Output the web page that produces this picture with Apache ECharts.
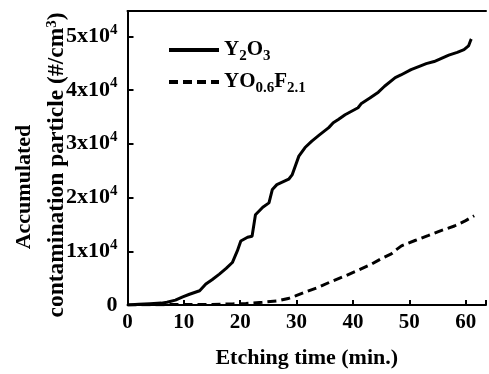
<!DOCTYPE html>
<html>
<head>
<meta charset="utf-8">
<script src="https://cdn.jsdelivr.net/npm/echarts@6/dist/echarts.min.js"></script>
<style>html,body{margin:0;padding:0;background:#fff}#c{width:489px;height:374px}</style>
</head>
<body>
<div id="c"></div>
<script>
// Etching time (min.) and accumulated particles (#/cm3)
var y2o3Time = [0, 2, 4, 6, 7, 8.5, 9.8, 11, 12.8, 13.9, 15, 16.3, 17.5, 18.6, 19.5, 20.1, 21.3, 22.1, 22.7, 24, 25.1, 25.7, 26.5, 28.6, 29.2, 30.4, 31.5, 32.7, 34, 35.7, 36.5, 37.4, 38.6, 40.9, 41.5, 43, 44.5, 45.6, 47.5, 48.5, 50.3, 52, 53, 54.4, 57, 58.5, 59.7, 60.5, 60.9, 61];
var y2o3Value = [0, 150, 250, 350, 500, 900, 1500, 2000, 2650, 3900, 4700, 5750, 6800, 7900, 10100, 11900, 12600, 12800, 16800, 18200, 19000, 21500, 22400, 23400, 24200, 27700, 29300, 30500, 31600, 33000, 33900, 34500, 35400, 36700, 37500, 38500, 39600, 40700, 42300, 42800, 43800, 44500, 44900, 45300, 46500, 47000, 47500, 48200, 49300, 49500];
var yofTime = [0, 5, 10, 15, 18.6, 21, 23.9, 26.8, 28.5, 29.8, 31.8, 33.9, 36, 38.6, 41, 43.3, 45, 46.8, 47.7, 48.6, 51, 53.3, 55.5, 58, 60, 61.5];
var yofValue = [0, 50, 100, 100, 200, 300, 500, 800, 1200, 1700, 2500, 3300, 4300, 5400, 6500, 7600, 8600, 9500, 10300, 11000, 12000, 12900, 13800, 14700, 15700, 16600];
var seriesNames = ['Y2O3', 'YO0.6F2.1'];
var legendLabels = {'Y2O3': 'Y{sub|2}O{sub|3}', 'YO0.6F2.1': 'YO{sub|0.6}F{sub|2.1}'};
var xTitle = 'Etching time (min.)';
var yTitle1 = 'Accumulated';
var yTitle2 = 'contamination particle (#/cm{sup|3})';

function pairs(t, v) { return t.map(function (x, i) { return [x, v[i]]; }); }

var FONT = 'Liberation Serif';
var chart = echarts.init(document.getElementById('c'));
chart.setOption({
  animation: false,
  backgroundColor: '#fff',
  grid: { left: 127.5, right: 0, top: 11, bottom: 68 },
  xAxis: [{
    type: 'value', min: 0, max: 63.6, interval: 10,
    axisLine: { lineStyle: { color: '#000', width: 2 } },
    axisTick: { inside: true, length: 5, lineStyle: { color: '#000', width: 2 } },
    axisLabel: { color: '#000', fontFamily: FONT, fontWeight: 'bold', fontSize: 21, margin: 7,
      formatter: function (v) { return v > 61 ? '' : String(v); } },
    splitLine: { show: false },
    name: xTitle, nameLocation: 'middle', nameGap: 42,
    nameTextStyle: { color: '#000', fontFamily: FONT, fontWeight: 'bold', fontSize: 22 }
  }, {
    type: 'value', position: 'top', min: 0, max: 63.6,
    axisLine: { show: true, lineStyle: { color: '#000', width: 2 } },
    axisTick: { show: false }, axisLabel: { show: false }, splitLine: { show: false }
  }],
  yAxis: {
    type: 'value', min: 0, max: 54700, interval: 10000,
    axisLine: { show: true, lineStyle: { color: '#000', width: 2 } },
    axisTick: { show: true, inside: true, length: 6, lineStyle: { color: '#000', width: 2 } },
    splitLine: { show: false },
    axisLabel: {
      color: '#000', fontFamily: FONT, fontWeight: 'bold', fontSize: 22, margin: 10, lineHeight: 28,
      formatter: function (v) { return v === 0 ? '0' : (v / 10000) + 'x10{sup|4}'; },
      rich: { sup: { fontFamily: FONT, fontWeight: 'bold', fontSize: 15, lineHeight: 20, verticalAlign: 'top', color: '#000' } }
    }
  },
  legend: {
    orient: 'vertical', left: 167, top: 36, padding: 0, itemGap: 4,
    itemWidth: 50, itemHeight: 14, data: seriesNames,
    itemStyle: { opacity: 0, borderWidth: 0 },
    lineStyle: { width: 4, color: '#000' },
    formatter: function (n) { return legendLabels[n]; },
    textStyle: {
      color: '#000', fontFamily: FONT, fontWeight: 'bold', fontSize: 21, lineHeight: 28,
      rich: { sub: { fontFamily: FONT, fontWeight: 'bold', fontSize: 15, lineHeight: 14, verticalAlign: 'bottom', color: '#000' } }
    }
  },
  graphic: [
    { type: 'text', x: 24, y: 187, rotation: Math.PI / 2,
      style: { text: yTitle1, fill: '#000', font: 'bold 22px "Liberation Serif"', textAlign: 'center', textVerticalAlign: 'middle' } },
    { type: 'text', x: 57, y: 165, rotation: Math.PI / 2,
      style: { text: yTitle2, fill: '#000', font: 'bold 23.5px "Liberation Serif"', textAlign: 'center', textVerticalAlign: 'middle',
        rich: { sup: { font: 'bold 15px "Liberation Serif"', fill: '#000', lineHeight: 20, verticalAlign: 'top' } } } }
  ],
  series: [{
    name: seriesNames[0], type: 'line', data: pairs(y2o3Time, y2o3Value), showSymbol: false, symbol: 'none',
    lineStyle: { color: '#000', width: 3 }, itemStyle: { color: '#000' }
  }, {
    name: seriesNames[1], type: 'line', data: pairs(yofTime, yofValue), showSymbol: false, symbol: 'none',
    lineStyle: { color: '#000', width: 3, type: [9, 5] }, itemStyle: { color: '#000' }
  }]
});
</script>
</body>
</html>
